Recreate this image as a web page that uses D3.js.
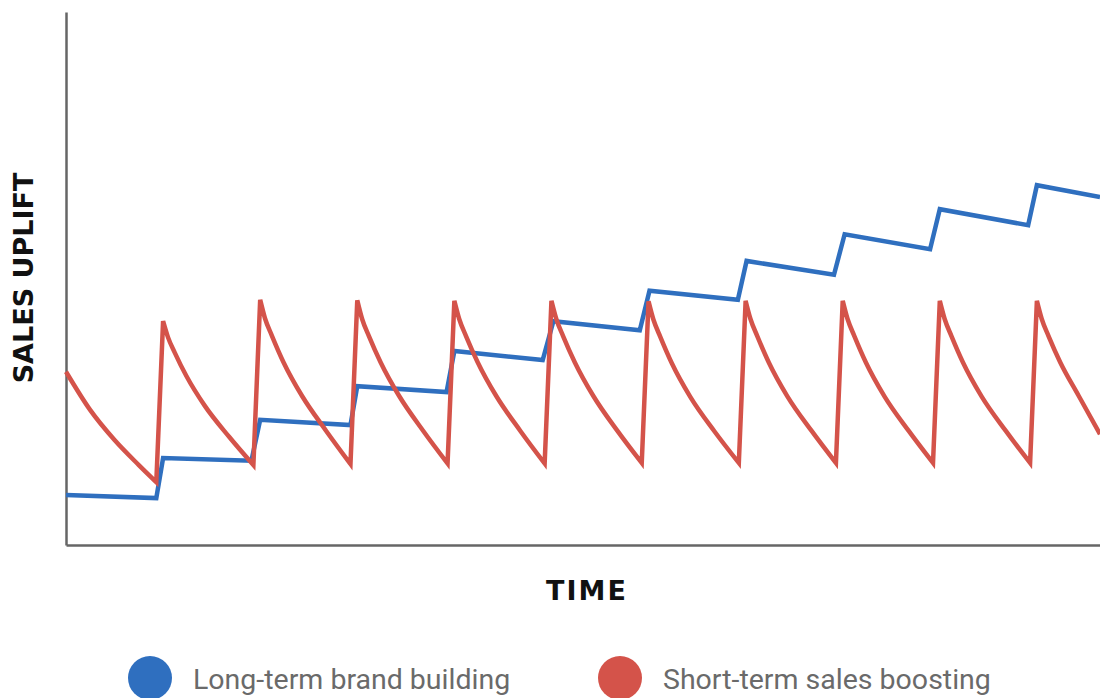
<!DOCTYPE html>
<html lang="en">
<head>
<meta charset="UTF-8">
<title>Sales uplift over time</title>
<script src="https://d3js.org/d3.v7.min.js"></script>
<style>
  body { margin: 0; background: #fff; }
</style>
</head>
<body>
<script>
// time is measured in campaign bursts (one burst = 1 unit)
const blueTime  = [0, 0.93, 1.0, 1.91, 2.0, 2.93, 3.0, 3.92, 4.0, 4.91, 5.02, 5.91, 6.01, 6.92, 7.01, 7.91, 8.02, 8.9, 9.0, 9.91, 10.0, 10.65]
const blueValue = [9.4, 8.8, 16.3, 15.8, 23.5, 22.5, 29.8, 28.7, 36.4, 34.7, 42.0, 40.3, 47.7, 46.0, 53.3, 50.7, 58.3, 55.5, 63.0, 60.0, 67.5, 65.3]

const redTime = [
  0, 0.25, 0.5, 0.75, 0.93,
  1, 1.05, 1.12, 1.24, 1.43, 1.68, 1.93,
  2, 2.05, 2.12, 2.24, 2.43, 2.68, 2.93,
  3, 3.05, 3.12, 3.24, 3.43, 3.68, 3.93,
  4, 4.05, 4.12, 4.24, 4.43, 4.68, 4.93,
  5, 5.05, 5.12, 5.24, 5.43, 5.68, 5.93,
  6, 6.05, 6.12, 6.24, 6.43, 6.68, 6.93,
  7, 7.05, 7.12, 7.24, 7.43, 7.68, 7.93,
  8, 8.05, 8.12, 8.24, 8.43, 8.68, 8.93,
  9, 9.05, 9.12, 9.24, 9.43, 9.68, 9.93,
  10, 10.05, 10.12, 10.24, 10.43, 10.65
]
const redValue = [
  32.5, 25.3, 19.7, 15.0, 11.8,
  42.0, 39.0, 36.1, 31.7, 26.1, 20.3, 15.0,
  46.0, 42.5, 39.3, 34.3, 28.0, 21.4, 15.2,
  45.9, 42.4, 39.2, 34.3, 28.0, 21.4, 15.3,
  45.8, 42.4, 39.2, 34.3, 28.0, 21.4, 15.3,
  45.8, 42.4, 39.2, 34.3, 28.0, 21.4, 15.4,
  45.7, 42.3, 39.1, 34.1, 27.8, 21.3, 15.4,
  45.8, 42.4, 39.2, 34.2, 27.9, 21.4, 15.4,
  45.8, 42.4, 39.2, 34.2, 27.9, 21.4, 15.4,
  45.8, 42.4, 39.2, 34.2, 27.9, 21.4, 15.4,
  45.8, 42.4, 39.2, 34.3, 28.0, 20.8
]

const seriesNames  = ["Long-term brand building", "Short-term sales boosting"]
const seriesColors = ["#2f6fbf", "#d4534a"]

const width = 1100
const height = 698

const svg = d3.select("body")
    .append("svg")
    .attr("width", width)
    .attr("height", height)

const x = d3.scaleLinear().domain([0, 10.65]).range([66, 1100])
const y = d3.scaleLinear().domain([0, 100]).range([545, 12])

// axes without ticks, just the two lines
svg.append("g")
    .attr("transform", `translate(0, ${y(0)})`)
    .call(d3.axisBottom(x).tickValues([]).tickSizeOuter(0))
    .select(".domain")
    .attr("stroke", "#666")
    .attr("stroke-width", 2.5)

svg.append("g")
    .attr("transform", `translate(${x(0)}, 0)`)
    .call(d3.axisLeft(y).tickValues([]).tickSizeOuter(0))
    .select(".domain")
    .attr("stroke", "#666")
    .attr("stroke-width", 2.5)

const line = d3.line()
    .x(d => x(d[0]))
    .y(d => y(d[1]))

const smooth = d3.line()
    .x(d => x(d[0]))
    .y(d => y(d[1]))
    .curve(d3.curveMonotoneX)

const blueData = d3.zip(blueTime, blueValue)
const redData  = d3.zip(redTime, redValue)

// split the red series into decay runs, smooth each, join them with straight jumps
const runs = []
redData.forEach((d, i) => {
    if (i === 0 || d[1] > redData[i - 1][1]) runs.push([])
    runs[runs.length - 1].push(d)
})
const redPath = runs.map((r, i) => {
    const s = smooth(r)
    return i === 0 ? s : "L" + s.slice(1)
}).join("")

svg.append("path")
    .datum(blueData)
    .attr("fill", "none")
    .attr("stroke", seriesColors[0])
    .attr("stroke-width", 4.5)
    .attr("d", line)

svg.append("path")
    .attr("fill", "none")
    .attr("stroke", seriesColors[1])
    .attr("stroke-width", 4.5)
    .attr("d", redPath)

// axis titles
svg.append("text")
    .attr("x", 587)
    .attr("y", 600)
    .attr("text-anchor", "middle")
    .attr("font-family", "DejaVu Sans")
    .attr("font-weight", "bold")
    .attr("font-size", 27)
    .attr("letter-spacing", 2)
    .attr("fill", "#111")
    .text("TIME")

svg.append("text")
    .attr("transform", "translate(33, 278) rotate(-90)")
    .attr("text-anchor", "middle")
    .attr("font-family", "DejaVu Sans")
    .attr("font-weight", "bold")
    .attr("font-size", 27)
    .attr("fill", "#111")
    .text("SALES UPLIFT")

// legend
const legendX = [150, 620]
const legend = svg.selectAll("g.legend")
    .data(seriesNames)
    .enter()
    .append("g")
    .attr("class", "legend")
    .attr("transform", (d, i) => `translate(${legendX[i]}, 678)`)

legend.append("circle")
    .attr("r", 22)
    .attr("fill", (d, i) => seriesColors[i])

legend.append("text")
    .attr("x", 43)
    .attr("y", 11)
    .attr("font-family", "Roboto")
    .attr("font-size", 28.5)
    .attr("fill", "#6a6a6a")
    .text(d => d)
</script>
</body>
</html>
